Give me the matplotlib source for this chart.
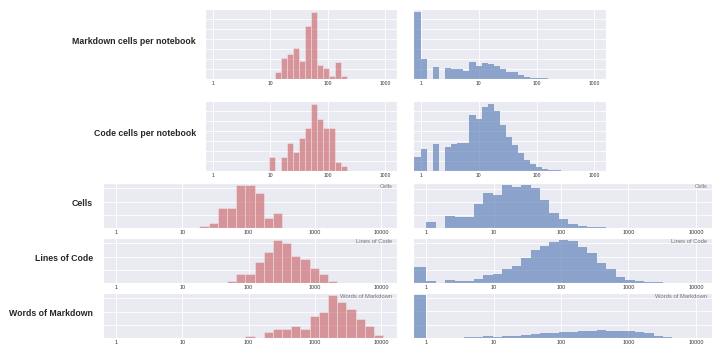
import numpy as np
import matplotlib.pyplot as plt
import seaborn as sns
from matplotlib.ticker import FixedLocator, NullLocator, MaxNLocator, FixedFormatter

sns.set_style('darkgrid')
plt.rcParams['font.family'] = ['Liberation Sans', 'DejaVu Sans']

row_labels = ['Markdown cells per notebook', 'Code cells per notebook',
              'Cells', 'Lines of Code', 'Words of Markdown']
corner_labels = [None, None, 'Cells', 'Lines of Code', 'Words of Markdown']

# left (red) histograms, counts per log bin
red_md_cells = [0, 22, 62, 74, 94, 54, 157, 199, 42, 32, 10, 52, 10]
red_code_cells = [42, 0, 42, 85, 56, 98, 128, 200, 155, 128, 128, 28, 14]
red_cells = [7, 15, 61, 61, 130, 130, 107, 30, 45]
red_lines = [0, 0, 0, 7, 27, 27, 63, 93, 130, 120, 83, 73, 45, 27, 7]
red_words = [0, 0, 0, 0, 0, 7, 0, 18, 27, 27, 37, 27, 67, 78, 130, 108, 87, 57, 37, 8]

# right (blue) histograms: count of zeros, then counts per log bin from 1
blue_md_zero = 200
blue_md_cells = [59, 0, 37, 0, 32, 29, 29, 25, 51, 40, 49, 45, 39, 29, 21, 21,
                 13, 7, 4, 3, 2, 1, 1, 0.5]
blue_code_zero = 41
blue_code_cells = [66, 0, 80, 0, 71, 82, 83, 83, 168, 155, 193, 200, 180, 138,
                   102, 78, 54, 34, 21, 12, 6, 4, 2, 1]
blue_cells_zero = 0
blue_cells = [17, 0, 37, 33, 35, 72, 107, 100, 131, 125, 131, 123, 85, 45, 27,
              13, 7, 4, 2]
blue_lines_zero = 50
blue_lines = [7, 0, 8, 5, 7, 13, 23, 27, 42, 53, 75, 100, 113, 123, 130, 128,
              110, 90, 62, 42, 19, 9, 5, 3, 2, 1]
blue_words_zero = 128
blue_words = [1, 0, 1, 1, 1.5, 3, 5, 3, 7, 7, 10, 12, 14, 15, 17, 18, 20, 22,
              23, 21, 22, 20, 17, 15, 5, 3, 1]

red_data = [red_md_cells, red_code_cells, red_cells, red_lines, red_words]
blue_data = [(blue_md_zero, blue_md_cells), (blue_code_zero, blue_code_cells),
             (blue_cells_zero, blue_cells), (blue_lines_zero, blue_lines),
             (blue_words_zero, blue_words)]

red = '#C44E52'
blue = '#4C72B0'

fig = plt.figure(figsize=(7.2, 3.55), dpi=100)


def add(x0, x1, y0, y1):
    return fig.add_axes([x0 / 720, 1 - y1 / 355, (x1 - x0) / 720, (y1 - y0) / 355])


rows_y = [(9, 79), (101, 171), (183, 228), (238, 283), (293, 338)]

for i in range(5):
    top = i < 2
    y0, y1 = rows_y[i]
    if top:
        axl = add(205, 397, y0, y1)
        axr = add(413, 606, y0, y1)
        xlim = (10 ** -0.135, 10 ** 3.2)
        ticks = [1, 10, 100, 1000]
        red_lo, red_w, blue_w = 0.971, 0.1047, 0.105
        fs = 3.6
    else:
        axl = add(103, 397, y0, y1)
        axr = add(413, 712, y0, y1)
        xlim = (10 ** -0.2, 10 ** 4.24)
        ticks = [1, 10, 100, 1000, 10000]
        red_lo, red_w, blue_w = 1.256, 0.1387, 0.1405
        fs = 3.9

    counts = red_data[i]
    edges = 10 ** (red_lo + red_w * np.arange(len(counts) + 1))
    axl.hist(edges[:-1], bins=edges, weights=counts, color=red, alpha=0.55,
             edgecolor='white', linewidth=0.4)

    zero, counts = blue_data[i]
    edges = np.concatenate([[xlim[0]], 10 ** (blue_w * np.arange(len(counts) + 1))])
    axr.hist(edges[:-1], bins=edges, weights=[zero] + counts, color=blue,
             alpha=0.6, linewidth=0)

    for ax in (axl, axr):
        ax.set_xscale('log')
        ax.set_xlim(*xlim)
        ax.xaxis.set_major_locator(FixedLocator(ticks))
        ax.xaxis.set_major_formatter(FixedFormatter([str(t) for t in ticks]))
        ax.xaxis.set_minor_locator(NullLocator())
        ax.yaxis.set_major_locator(MaxNLocator(8 if top else 4))
        ax.set_yticklabels([])
        ax.tick_params(axis='x', labelsize=fs, length=0, pad=1.2,
                       labelcolor='#333333')
        ax.tick_params(axis='y', length=0, pad=0)
        ax.grid(True, color='white', linewidth=0.6)
        if corner_labels[i]:
            ax.text(0.985, 0.98, corner_labels[i], transform=ax.transAxes,
                    ha='right', va='top', fontsize=4.2, color='#777777')

    lx = 196 if top else 93
    fig.text(lx / 720, 1 - ((y0 + y1) / 2 - 2) / 355, row_labels[i],
             ha='right', va='center', fontsize=6.3, fontweight='bold')

fig.savefig('out.png', dpi=100)
